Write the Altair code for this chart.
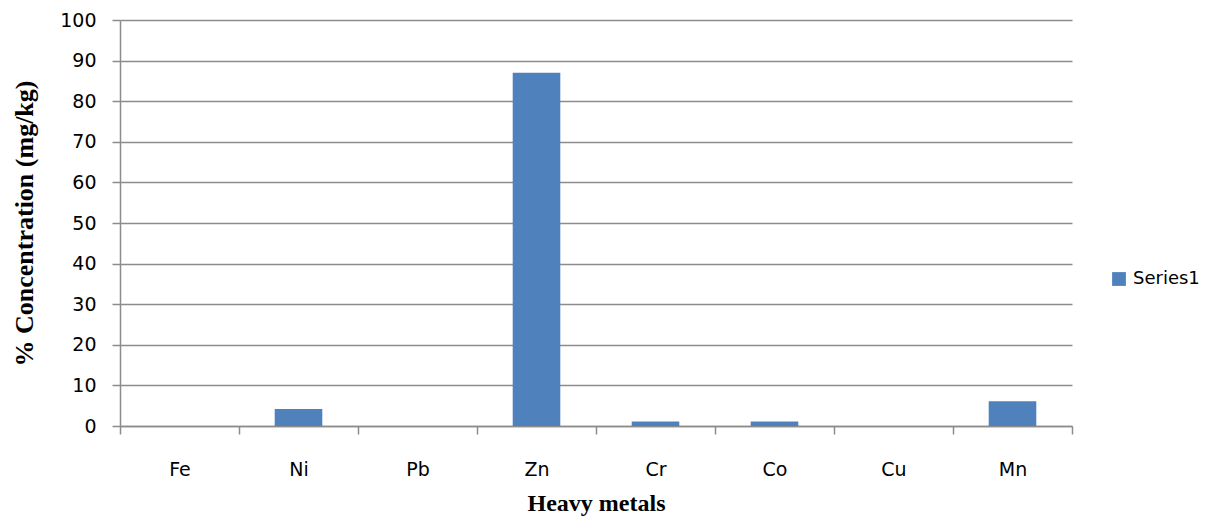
import altair as alt
import pandas as pd

metals = ["Fe", "Ni", "Pb", "Zn", "Cr", "Co", "Cu", "Mn"]
values = [0, 4.2, 0, 87.0, 1.1, 1.1, 0, 6.1]
series = ["Series1"] * len(metals)

df = pd.DataFrame({"metal": metals, "value": values, "series": series})

grid_color = "#8c8c8c"

chart = alt.Chart(df).mark_bar(
    width=alt.RelativeBandSize(0.4), color="#4F81BD"
).encode(
    x=alt.X("metal:N", sort=metals, title="Heavy metals",
            scale=alt.Scale(paddingInner=0, paddingOuter=0),
            axis=alt.Axis(labelAngle=0, tickBand="extent", grid=False,
                          domainColor=grid_color, tickColor=grid_color, tickSize=8,
                          labelFont="DejaVu Sans", labelFontSize=19, labelColor="#000000",
                          labelPadding=26, titleFont="Liberation Serif", titleFontSize=24,
                          titleFontWeight="bold", titleColor="#000000", titlePadding=12)),
    y=alt.Y("value:Q", title="% Concentration (mg/kg)",
            scale=alt.Scale(domain=[0, 100], nice=False),
            axis=alt.Axis(values=list(range(0, 101, 10)), grid=True, gridColor=grid_color,
                          gridWidth=1.5, domainColor=grid_color, tickColor=grid_color,
                          tickSize=8, domainWidth=1.5, tickWidth=1.5,
                          labelFont="DejaVu Sans", labelFontSize=19, labelColor="#000000",
                          labelPadding=16, titleFont="Liberation Serif", titleFontSize=26,
                          titleFontWeight="bold", titleColor="#000000", titlePadding=22)),
    fill=alt.Fill("series:N", scale=alt.Scale(range=["#4F81BD"]),
                  legend=alt.Legend(title=None, orient="none", legendX=990, legendY=250,
                                    symbolType="square", symbolSize=190, symbolStrokeWidth=0,
                                    labelFont="DejaVu Sans", labelFontSize=18,
                                    labelColor="#000000", labelOffset=5)),
).properties(
    width=952, height=406,
    autosize=alt.AutoSizeParams(type="none"),
    padding={"left": 112, "top": 12, "right": 133, "bottom": 97},
).configure_view(stroke=None).configure_axis(domainWidth=1.5, tickWidth=1.5)

chart.save("out.html", embed_options={"renderer": "svg", "actions": False})
